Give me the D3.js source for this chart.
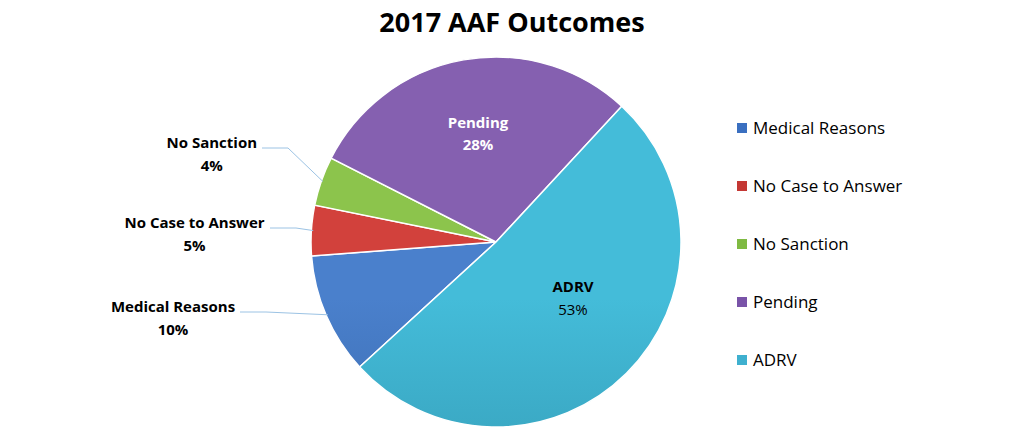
<!DOCTYPE html><html><head><meta charset="utf-8">
<script src="https://cdn.jsdelivr.net/npm/d3@7"></script>
<style>body{margin:0;background:#fff}</style></head><body><svg id="c" width="1024" height="446"></svg>
<script>
const categories=["Medical Reasons","No Case to Answer","No Sanction","Pending","ADRV"];
const values=[10.6,4.4,4.3,29.4,51.3];
const labels=["10%","5%","4%","28%","53%"];
const colorsTop=["#4a80cc","#d2413c","#8cc44c","#8560b0","#44bcd9"];
const colorsBot=["#2a5590","#a02c2a","#62942f","#573c80","#2a87a0"];
const legendColors=["#3a6fc0","#c43834","#7fba42","#7953a8","#3fb0cf"];
const svg=d3.select("#c");
svg.append("text").attr("x",512).attr("y",32).attr("text-anchor","middle").attr("font-family","Open Sans").attr("font-weight","bold").attr("font-size",27).text("2017 AAF Outcomes");
const cx=496,cy=242,r=185;
const defs=svg.append("defs");
categories.forEach((c,i)=>{const g=defs.append("linearGradient").attr("id","g"+i).attr("gradientUnits","userSpaceOnUse").attr("x1",0).attr("y1",cy-r).attr("x2",0).attr("y2",cy+r);
g.append("stop").attr("offset",0).attr("stop-color",colorsTop[i]);g.append("stop").attr("offset",1).attr("stop-color",colorsBot[i]);});
const start=227.5*Math.PI/180;
const pie=d3.pie().sort(null).startAngle(start).endAngle(start+2*Math.PI);
const arcs=pie(values);
const arc=d3.arc().innerRadius(0).outerRadius(r);
const g=svg.append("g").attr("transform",`translate(${cx},${cy})`);
g.selectAll("path").data(arcs).join("path").attr("d",arc).attr("fill",(d,i)=>`url(#g${i})`).attr("stroke","#fff").attr("stroke-width",1.5);
const font="Open Sans";
const outPos=[[236,307],[266,223],[258,143]];
arcs.slice(0,3).forEach((a,i)=>{const m=(a.startAngle+a.endAngle)/2;const px=cx+Math.sin(m)*r*0.99,py=cy-Math.cos(m)*r*0.99;
const [lx,ly]=outPos[i];
svg.append("path").attr("d",`M${lx+4},${ly+5}L${lx+30},${ly+5}L${px},${py}`).attr("fill","none").attr("stroke","#9cc3e4").attr("stroke-width",1);
const t=svg.append("text").attr("font-family",font).attr("font-weight","bold").attr("font-size",15).attr("text-anchor","middle");
const w=categories[i].length*8.4;
t.append("tspan").attr("x",lx-w/2).attr("y",ly+5).text(categories[i]);
t.append("tspan").attr("x",lx-w/2).attr("y",ly+28).text(labels[i]);});
const t3=svg.append("text").attr("font-family",font).attr("font-size",15).attr("text-anchor","middle").attr("fill","#fff").attr("font-weight","bold");
t3.append("tspan").attr("x",478).attr("y",128).text(categories[3]);t3.append("tspan").attr("x",478).attr("y",150).text(labels[3]);
const t4=svg.append("text").attr("font-family",font).attr("font-size",15).attr("text-anchor","middle").attr("fill","#000");
t4.append("tspan").attr("x",573).attr("y",292).attr("font-weight","bold").text(categories[4]);t4.append("tspan").attr("x",573).attr("y",315).text(labels[4]);
const leg=svg.append("g");
categories.forEach((c,i)=>{const y=128+i*58;leg.append("rect").attr("x",737).attr("y",y-5).attr("width",10).attr("height",10).attr("fill",legendColors[i]);
leg.append("text").attr("x",753).attr("y",y+6).attr("font-family",font).attr("font-size",17).text(c);});
</script></body></html>
